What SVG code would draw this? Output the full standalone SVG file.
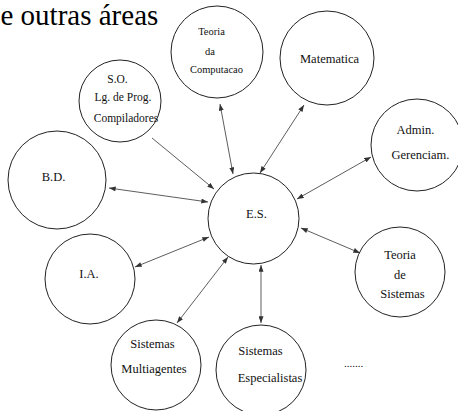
<svg xmlns="http://www.w3.org/2000/svg" width="458" height="411" viewBox="0 0 458 411">
<style>
  .node circle { fill: none; stroke: #222; stroke-width: 1; }
  .node text { font-family: "Liberation Serif", "Times New Roman", serif; font-size: 12.5px; fill: #111; text-anchor: middle; }
  .small text { font-size: 10.5px; }
  .mid text { font-size: 11.5px; }
  .edges line { stroke: #333; stroke-width: 0.8; }
  .title { font-family: "Liberation Serif", "Times New Roman", serif; font-size: 29px; fill: #000; }
</style>
<defs>
  <marker id="ah" viewBox="0 0 8 6" refX="8" refY="3" markerWidth="7" markerHeight="5" markerUnits="userSpaceOnUse" orient="auto-start-reverse">
    <path d="M0,0 L8,3 L0,6 z" fill="#333"/>
  </marker>
</defs>
<rect width="458" height="411" fill="#fff"/>
<text class="title" x="0.5" y="25">e outras áreas</text>

<g class="edges">
  <line x1="152" y1="138" x2="214" y2="189" marker-end="url(#ah)"/>
  <line x1="109" y1="188" x2="208" y2="202" marker-start="url(#ah)" marker-end="url(#ah)"/>
  <line x1="220" y1="104" x2="233" y2="174" marker-start="url(#ah)" marker-end="url(#ah)"/>
  <line x1="304" y1="105" x2="260" y2="173" marker-start="url(#ah)" marker-end="url(#ah)"/>
  <line x1="371" y1="157" x2="297" y2="199" marker-start="url(#ah)" marker-end="url(#ah)"/>
  <line x1="301" y1="228" x2="360" y2="253" marker-start="url(#ah)" marker-end="url(#ah)"/>
  <line x1="261" y1="265" x2="261" y2="323" marker-start="url(#ah)" marker-end="url(#ah)"/>
  <line x1="228" y1="257" x2="177" y2="323" marker-start="url(#ah)" marker-end="url(#ah)"/>
  <line x1="209" y1="237" x2="135" y2="267" marker-start="url(#ah)" marker-end="url(#ah)"/>
</g>

<g id="teoria-computacao" class="node small">
  <circle cx="217" cy="52" r="46"/>
  <text x="211.5" y="35">Teoria</text>
  <text x="210" y="55">da</text>
  <text x="216.5" y="73">Computacao</text>
</g>
<g id="matematica" class="node">
  <circle cx="327" cy="58" r="47"/>
  <text x="329.5" y="63">Matematica</text>
</g>
<g id="admin" class="node">
  <circle cx="417" cy="145" r="46"/>
  <text x="415.5" y="134">Admin.</text>
  <text x="420.5" y="159">Gerenciam.</text>
</g>
<g id="so" class="node mid">
  <circle cx="120" cy="101" r="41"/>
  <text x="117.5" y="83">S.O.</text>
  <text x="123" y="101">Lg. de Prog.</text>
  <text x="126" y="122">Compiladores</text>
</g>
<g id="bd" class="node">
  <circle cx="57" cy="180" r="49"/>
  <text x="53.5" y="181">B.D.</text>
</g>
<g id="es" class="node">
  <circle cx="253.5" cy="218.5" r="45.5"/>
  <text x="256.5" y="218">E.S.</text>
</g>
<g id="ia" class="node">
  <circle cx="90" cy="279" r="45"/>
  <text x="89" y="278">I.A.</text>
</g>
<g id="multiagentes" class="node">
  <circle cx="156" cy="365" r="45"/>
  <text x="152.5" y="348">Sistemas</text>
  <text x="154" y="373">Multiagentes</text>
</g>
<g id="especialistas" class="node">
  <circle cx="261" cy="370" r="45"/>
  <text x="260.5" y="355">Sistemas</text>
  <text x="270" y="382">Especialistas</text>
</g>
<g id="teoria-sistemas" class="node">
  <circle cx="400" cy="272" r="45"/>
  <text x="400" y="259">Teoria</text>
  <text x="400" y="279">de</text>
  <text x="402.5" y="298">Sistemas</text>
</g>
<g id="etc" class="node">
  <text x="353.5" y="367" style="font-size:11px">.......</text>
</g>
</svg>
